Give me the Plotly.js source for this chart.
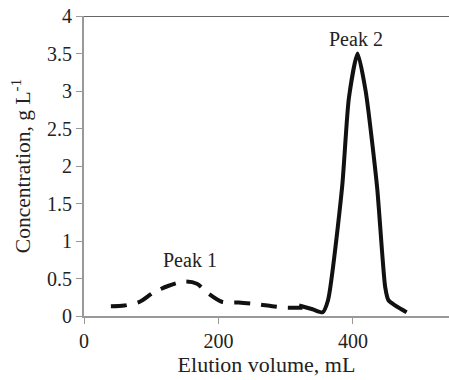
<!DOCTYPE html>
<html>
<head>
<meta charset="utf-8">
<script src="https://cdn.plot.ly/plotly-3.0.1.min.js"></script>
<style>html,body{margin:0;padding:0;background:#fff;}#chart{width:449px;height:380px;}</style>
</head>
<body>
<div id="chart"></div>
<script>
// Peak 1 (dashed)
const peak1X = [40, 60, 83, 103, 125, 150, 168, 185, 205, 230, 255, 280, 300, 325];
const peak1Y = [0.13, 0.14, 0.19, 0.31, 0.40, 0.46, 0.43, 0.30, 0.19, 0.18, 0.16, 0.13, 0.11, 0.11];
// Peak 2 (solid)
const peak2X = [320, 340, 355, 363, 384, 394, 407, 419, 436, 448, 453, 480];
const peak2Y = [0.14, 0.09, 0.05, 0.21, 1.72, 2.9, 3.5, 3.0, 1.72, 0.39, 0.21, 0.05];
const xTicks = [0, 200, 400];
const yTicks = [0, 0.5, 1, 1.5, 2, 2.5, 3, 3.5, 4];
const yTickLabels = ['0', '0.5', '1', '1.5', '2', '2.5', '3', '3.5', '4'];
const labels = ['Peak 1', 'Peak 2'];
const labelX = [158, 404];
const labelY = [0.75, 3.69];

const FAM = '"Liberation Serif", "Times New Roman", serif';
const f = (s) => ({family: FAM, size: s, color: '#222'});

const traces = [
  {x: peak1X, y: peak1Y, mode: 'lines', line: {color: '#111', width: 4, dash: '16px,11px', shape: 'spline', smoothing: 0.8}, hoverinfo: 'skip'},
  {x: peak2X, y: peak2Y, mode: 'lines', line: {color: '#111', width: 4, shape: 'spline', smoothing: 0.6}, hoverinfo: 'skip'}
];

const layout = {
  width: 449, height: 380,
  margin: {l: 84, r: 0, t: 16, b: 64},
  paper_bgcolor: '#fff', plot_bgcolor: '#fff',
  showlegend: false,
  font: f(20),
  xaxis: {
    range: [0, 543], tickvals: xTicks, ticktext: xTicks.map(String),
    showgrid: false, zeroline: false, showline: true, linecolor: '#999', linewidth: 2,
    ticks: 'outside', ticklen: 6, tickcolor: '#999', tickwidth: 1,
    tickfont: f(20),
    title: {text: 'Elution volume, mL', font: f(22), standoff: 6}
  },
  yaxis: {
    range: [0, 4], tickvals: yTicks, ticktext: yTickLabels,
    showgrid: false, zeroline: false, showline: true, linecolor: '#999', linewidth: 2,
    ticks: 'outside', ticklen: 6, tickcolor: '#999', tickwidth: 1,
    tickfont: f(20),
    title: {text: 'Concentration, g L<sup>-1</sup>', font: f(21.5), standoff: 10}
  },
  shapes: [
    {type: 'line', xref: 'paper', yref: 'y', x0: 0, x1: 1, y0: 4, y1: 4, line: {color: '#333', width: 1.5}}
  ],
  annotations: labels.map((t, i) => ({
    x: labelX[i], y: labelY[i], xref: 'x', yref: 'y', text: t, showarrow: false,
    font: f(20)
  }))
};

Plotly.newPlot('chart', traces, layout, {displayModeBar: false, staticPlot: true});
</script>
</body>
</html>
